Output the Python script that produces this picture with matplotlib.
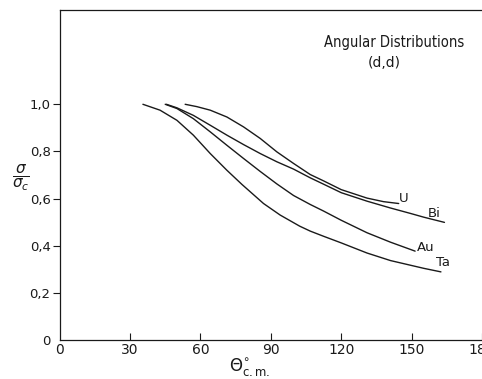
import matplotlib
matplotlib.use("Agg")
import matplotlib.pyplot as plt

# ---- data ----
ta_x = [35.5, 42.8, 50.0, 57.0, 64.2, 71.3, 77.7, 86.9, 94.0, 102.3, 106.8, 112.5, 120.0, 131.0, 141.0, 155.2, 162.5]
ta_y = [1.0, 0.975, 0.932, 0.869, 0.791, 0.720, 0.660, 0.579, 0.530, 0.483, 0.462, 0.440, 0.412, 0.369, 0.337, 0.304, 0.289]

au_x = [45.0, 50.0, 57.0, 64.2, 71.3, 78.4, 85.5, 92.6, 99.7, 106.8, 112.5, 120.0, 131.0, 141.0, 151.5]
au_y = [1.0, 0.982, 0.939, 0.883, 0.826, 0.770, 0.715, 0.662, 0.613, 0.575, 0.547, 0.508, 0.455, 0.415, 0.377]

bi_x = [45.5, 50.0, 57.0, 64.2, 71.3, 78.4, 85.5, 92.6, 99.7, 106.8, 112.5, 120.0, 131.0, 141.0, 149.5, 155.2, 164.0]
bi_y = [1.0, 0.985, 0.953, 0.911, 0.869, 0.829, 0.791, 0.756, 0.725, 0.688, 0.661, 0.625, 0.589, 0.560, 0.537, 0.521, 0.499]

u_x = [53.5, 58.5, 64.2, 71.3, 78.4, 85.5, 92.6, 99.7, 106.8, 112.5, 120.0, 131.0, 138.0, 144.5]
u_y = [1.0, 0.990, 0.975, 0.946, 0.904, 0.855, 0.798, 0.749, 0.702, 0.675, 0.638, 0.602, 0.587, 0.579]

series_names = ["U", "Bi", "Au", "Ta"]
label_x = [146.7, 159.7, 155.9, 163.4]
label_y = [0.600, 0.537, 0.393, 0.328]

x_ticks = [0, 30, 60, 90, 120, 150, 180]
x_ticklabels = ["0", "30", "60", "90", "120", "150", "180"]
y_ticks = [0, 0.2, 0.4, 0.6, 0.8, 1.0]
y_ticklabels = ["0", "0,2", "0,4", "0,6", "0,8", "1,0"]

title_lines = ["Angular Distributions", "(d,d)"]

# ---- figure ----
W, H = 482, 379
fig = plt.figure(figsize=(W / 100, H / 100), dpi=100)
ax = fig.add_axes([59.6 / W, 1 - 340 / H, (W - 59.6) / W, 330 / H])

lc = "#1a1a1a"
for xs, ys in [(u_x, u_y), (bi_x, bi_y), (au_x, au_y), (ta_x, ta_y)]:
    ax.plot(xs, ys, color=lc, lw=1.0, solid_capstyle="round", solid_joinstyle="round")

for name, lx, ly in zip(series_names, label_x, label_y):
    ax.text(lx, ly, name, ha="center", va="center", fontsize=9.5, color=lc)

ax.text(142.7, 1.26, title_lines[0], ha="center", va="center", fontsize=10.5,
        color=lc, fontstretch="condensed")
ax.text(138.4, 1.175, title_lines[1], ha="center", va="center", fontsize=10, color=lc)

ax.set_xlim(0, 180)
ax.set_ylim(0, 1.4)
ax.set_xticks(x_ticks)
ax.set_xticklabels(x_ticklabels)
ax.set_yticks(y_ticks)
ax.set_yticklabels(y_ticklabels)

ax.tick_params(axis="x", direction="in", length=5, width=0.8, pad=2, labelsize=10, colors=lc)
ax.tick_params(axis="y", direction="out", length=5, width=0.8, pad=1.5, labelsize=9.5, colors=lc)
ax.yaxis.get_major_ticks()[0].tick1line.set_visible(False)
ax.xaxis.get_major_ticks()[0].tick1line.set_visible(False)

for s in ["left", "bottom", "top"]:
    ax.spines[s].set_linewidth(0.9)
    ax.spines[s].set_color(lc)
ax.spines["right"].set_visible(False)

ax.set_xlabel(r"$\Theta^{\circ}_{\rm c.m.}$", fontsize=12, color=lc)
ax.xaxis.set_label_coords(0.451, -0.047)

fig.text(21 / W, 1 - 178 / H, r"$\dfrac{\sigma}{\sigma_c}$", ha="center", va="center",
         fontsize=11, color=lc)

fig.savefig("out.png", dpi=100)
